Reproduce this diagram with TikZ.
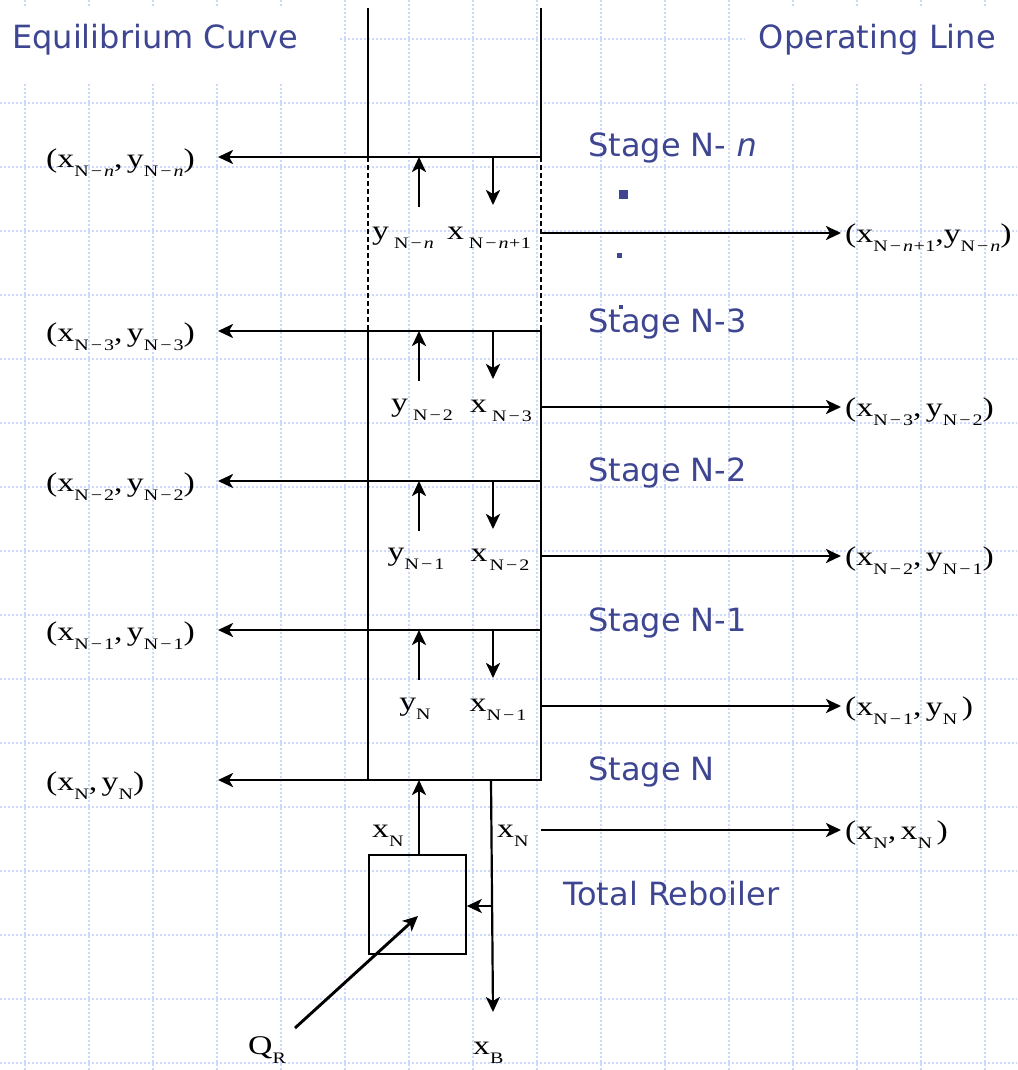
\documentclass[tikz,border=0pt]{standalone}
\usepackage{fontspec}
\usepackage{tikz}
\usetikzlibrary{arrows.meta}
\usetikzlibrary{positioning}
\newfontfamily\stagefont{DejaVu Sans}
\newfontfamily\labelfont[FakeStretch=1.25]{Liberation Serif}
\definecolor{titleblue}{RGB}{62,70,146}
\definecolor{gridblue}{RGB}{204,217,252}
\newcommand{\lo}[1]{\raisebox{-9.5pt}{\fontsize{16}{16}\selectfont #1}}
\newcommand{\mn}{\kern2pt−\kern2pt}
\newcommand{\pl}{\kern0.5pt+\kern0.5pt}

\begin{document}
\begin{tikzpicture}[
		x=1pt,
		y=-1pt,
		>={Stealth[length=15pt,width=14pt,inset=4pt]},
		flow/.style={->, line width=2.9pt},
		wall/.style={line width=2pt},
		math node/.style={font=\labelfont\fontsize{27}{30}\selectfont, inner sep=0pt},
		stage node/.style={font=\stagefont\fontsize{32}{38}\selectfont, text=titleblue, inner sep=0pt},
		grid line/.style={gridblue, line width=1.3pt, dash pattern=on 2pt off 2pt}
		]
		\useasboundingbox (0,0) rectangle (1017,1070);
		
		% background grid
		\foreach \gx in {25,89,...,985}
			\draw[grid line] (\gx,0) -- (\gx,1070);
		\foreach \gy in {39,103,...,1063}
			\draw[grid line] (0,\gy) -- (1017,\gy);
		\fill[white] (0,7) rectangle (340,83);
		\fill[white] (745,7) rectangle (1017,83);
		
		\node[stage node, anchor=base west] (eqcurve) at (12,49) {Equilibrium Curve};
		\node[stage node, anchor=base east] (opline) at (996,49) {Operating Line};
		
		% trays of the column
		\foreach \i/\ty in {1/157, 2/331, 3/481, 4/630, 5/780} {
			\coordinate (trayL\i) at (368,\ty);
			\coordinate (trayR\i) at (541,\ty);
			\coordinate (eqtip\i) at (218,\ty);
		}
		\coordinate (topL) at (368,8);
		\coordinate (topR) at (541,8);
		
		\draw[wall] (topL) -- (trayL1) -- (trayR1) -- (topR);
		\draw[wall, dash pattern=on 5pt off 3pt] (trayL1) -- (trayL2);
		\draw[wall, dash pattern=on 5pt off 3pt] (trayR1) -- (trayR2);
		\draw[wall] (trayL2) rectangle (trayR5);
		\draw[wall] (trayL3) -- (trayR3);
		\draw[wall] (trayL4) -- (trayR4);
		
		% vapour up, liquid down, on each tray
		\foreach \i in {1,2,3,4} {
			\draw[flow] ([yshift=-50pt]trayL\i -| 419,0) -- (trayL\i -| 419,0);
			\draw[flow] (trayL\i -| 493,0) -- ([yshift=-48pt]trayL\i -| 493,0);
		}
		
		% streams to the equilibrium curve
		\foreach \i in {1,...,5}
			\draw[flow] (trayL\i) -- (eqtip\i);
		\node[math node, anchor=base west] (eq1) at (46,167) {(x\lo{N\mn\textit{n}},\,y\lo{N\mn\textit{n}})};
		\node[math node, anchor=base west] (eq2) at (46,341) {(x\lo{N\mn3},\,y\lo{N\mn3})};
		\node[math node, anchor=base west] (eq3) at (46,491) {(x\lo{N\mn2},\,y\lo{N\mn2})};
		\node[math node, anchor=base west] (eq4) at (46,640) {(x\lo{N\mn1},\,y\lo{N\mn1})};
		\node[math node, anchor=base west] (eq5) at (46,790) {(x\lo{N},\,y\lo{N})};
		
		% streams to the operating line
		\foreach \j/\sy in {1/233, 2/407, 3/556, 4/706, 5/830} {
			\coordinate (opstart\j) at (541,\sy);
			\coordinate (optip\j) at (841,\sy);
			\draw[flow] (opstart\j) -- (optip\j);
		}
		\node[math node, anchor=base west] (op1) at (845,242) {(x\lo{N\mn\textit{n}\pl1},y\lo{N\mn\textit{n}})};
		\node[math node, anchor=base west] (op2) at (845,416) {(x\lo{N\mn3},\,y\lo{N\mn2})};
		\node[math node, anchor=base west] (op3) at (845,565) {(x\lo{N\mn2},\,y\lo{N\mn1})};
		\node[math node, anchor=base west] (op4) at (845,715) {(x\lo{N\mn1},\,y\lo{N}\,)};
		\node[math node, anchor=base west] (op5) at (845,839) {(x\lo{N},\,x\lo{N}\,)};
		
		% labels inside the stages
		\node[math node, anchor=base] (yin1) at (403,239) {y\lo{\kern5pt N\mn\textit{n}}};
		\node[math node, anchor=base] (xin1) at (489,239) {x\lo{\kern5pt N\mn\textit{n}\pl1}};
		\node[math node, anchor=base] (yin2) at (422,411) {y\lo{\kern5pt N\mn2}};
		\node[math node, anchor=base] (xin2) at (501,412) {x\lo{\kern5pt N\mn3}};
		\node[math node, anchor=base] (yin3) at (416,560) {y\lo{N\mn1}};
		\node[math node, anchor=base] (xin3) at (500,561) {x\lo{\kern2pt N\mn2}};
		\node[math node, anchor=base] (yin4) at (415,710) {y\lo{N}};
		\node[math node, anchor=base] (xin4) at (498,711) {x\lo{N\mn1}};
		
		% stage names
		\node[stage node, anchor=base west] (st1) at (588,157) {Stage N- \textit{n}};
		\node[stage node, anchor=base west] (st2) at (588,332) {Stage N-3};
		\node[stage node, anchor=base west] (st3) at (588,481) {Stage N-2};
		\node[stage node, anchor=base west] (st4) at (588,631) {Stage N-1};
		\node[stage node, anchor=base west] (st5) at (588,780) {Stage N};
		\node[stage node, anchor=base west] (st6) at (563,905) {Total Reboiler};
		\fill[titleblue] (619,190) rectangle (628,199);
		\fill[titleblue] (617,253) rectangle (622,258);
		\fill[titleblue] (619,305) rectangle (623,309);
		
		% reboiler
		\node[draw, line width=1.6pt, minimum width=97pt, minimum height=99pt, inner sep=0pt] (reboiler) at (417.5,904.5) {};
		\coordinate (liqtop) at (491,780);
		\coordinate (liqbranch) at (493,906);
		\coordinate (bottoms) at (493,1012);
		\coordinate (qtail) at (295,1028);
		\coordinate (qtip) at (418,916);
		\draw[flow] (reboiler.north -| 419,0) -- (trayL5 -| 419,0);
		\draw[flow, line width=2.2pt] (liqtop) -- (bottoms);
		\draw[flow, line width=2.2pt] (liqbranch) -- (reboiler.east |- liqbranch);
		\draw[flow] (qtail) -- (qtip);
		
		\node[math node, anchor=base west] (xvap) at (372,837) {x\lo{N}};
		\node[math node, anchor=base west] (xliq) at (497,837) {x\lo{N}};
		\node[math node, anchor=base west] (xbot) at (473,1054) {x\lo{B}};
		\node[math node, anchor=base west] (qr) at (248,1054) {Q\lo{R}};
	\end{tikzpicture}
\end{document}
